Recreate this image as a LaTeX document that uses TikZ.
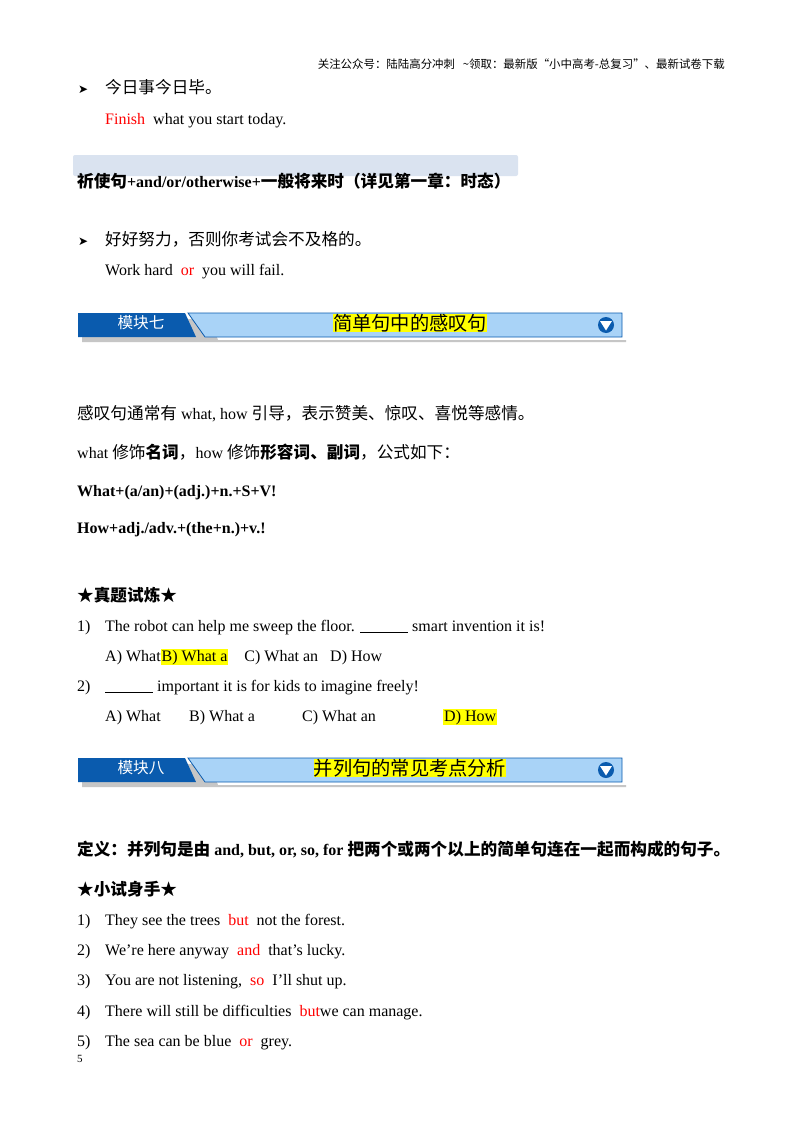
\documentclass[tikz,border=0pt]{standalone}
\usepackage{fontspec}
\setmainfont{Liberation Serif}
\newfontfamily\cjk[Scale=1.04]{Noto Sans CJK SC}
\newfontfamily\djv{DejaVu Sans}
\definecolor{darkb}{HTML}{0A5BAE}
\definecolor{lightb}{HTML}{A9D3F7}
\definecolor{hl}{HTML}{FFFF00}
\definecolor{boxc}{HTML}{DAE3F0}
\newcommand{\zh}[1]{{\cjk #1}}
\newcommand{\rd}[1]{\textcolor{red}{#1}}
\begin{document}
\begin{tikzpicture}[x=1pt,y=-1pt,
  txt/.style={anchor=base west,inner sep=0pt,font=\fontsize{16}{19}\selectfont},
  bld/.style={txt,font=\fontsize{16}{19}\selectfont\bfseries},
  num/.style={txt}]
\useasboundingbox (0,0) rectangle (800,1132);
\fill[white] (0,0) rectangle (800,1132);
\node[anchor=base east,inner sep=0pt,font=\fontsize{11}{13}\selectfont\cjk] (hd) at (725,69) {关注公众号：陆陆高分冲刺 \ \ \~{}领取：最新版“小中高考-总复习”、最新试卷下载};
\node[txt] (b1) at (78,93) {\djv\fontsize{12}{14}\selectfont ➤};
\node[txt] (l1) at (105,93) {\zh{今日事今日毕。}};
\node[txt] (l2) at (105,124) {\rd{Finish}\ \ what you start today.};
\fill[boxc,rounded corners=2pt] (73,155) rectangle (518,176);
\node[bld] (l3) at (77,187) {\zh{\bfseries 祈使句}+and/or/otherwise+\zh{\bfseries 一般将来时（详见第一章：时态）}};
\node[txt] (b2) at (78,245) {\djv\fontsize{12}{14}\selectfont ➤};
\node[txt] (l4) at (105,245) {\zh{好好努力，否则你考试会不及格的。}};
\node[txt] (l5) at (105,275) {Work hard\ \ \rd{or}\ \ you will fail.};
\foreach \y/\tab/\ttl [count=\i] in {313/模块七/简单句中的感叹句,758/模块八/并列句的常见考点分析}{
  \fill[gray!45] (82,\y+6) -- (210,\y+6) -- (218,\y+27) -- (626,\y+27) -- (626,\y+29) -- (82,\y+29) -- cycle;
  \fill[lightb,draw=darkb,line width=0.8pt] (188,\y) -- (622,\y) -- (622,\y+24) -- (205,\y+24) -- cycle;
  \fill[darkb] (78,\y) -- (185,\y) -- (196,\y+24) -- (78,\y+24) -- cycle;
  \node[inner sep=0pt,font=\fontsize{15}{17}\selectfont\cjk,text=white] (t\i) at (141,\y+10) {\tab};
  \node[inner sep=0pt,fill=hl,font=\fontsize{18.5}{21}\selectfont\cjk] (h\i) at (410,\y+10) {\ttl};
  \node[circle,fill=darkb,minimum size=16pt,inner sep=0pt] (c\i) at (606,\y+12) {};
  \fill[white] (600,\y+8) -- (612,\y+8) -- (606,\y+17.5) -- cycle;
}
\node[txt] (p1) at (77,419) {\zh{感叹句通常有} what, how \zh{引导，表示赞美、惊叹、喜悦等感情。}};
\node[txt] (p2) at (77,458) {what \zh{修饰\bfseries 名词}\zh{，}how \zh{修饰}\zh{\bfseries 形容词、副词}\zh{，公式如下：}};
\node[bld] (p3) at (77,496) {What+(a/an)+(adj.)+n.+S+V!};
\node[bld] (p4) at (77,533) {How+adj./adv.+(the+n.)+v.!};
\node[bld] (p5) at (77,601) {\zh{\bfseries ★真题试炼★}};
\node[num] (n1) at (77,631) {1)};
\node[txt] (q1) at (105,631) {The robot can help me sweep the floor. \underline{\hspace{48pt}} smart invention it is!};
\node[txt] (o1) at (105,661) {A) What\setlength{\fboxsep}{1pt}\colorbox{hl}{B) What a}\ \ \ \ C) What an\ \ \ D) How};
\node[num] (n2) at (77,691) {2)};
\node[txt] (q2) at (105,691) {\underline{\hspace{48pt}} important it is for kids to imagine freely!};
\node[txt] (o2a) at (105,721) {A) What};
\node[txt] (o2b) at (189,721) {B) What a};
\node[txt] (o2c) at (302,721) {C) What an};
\node[txt,fill=hl,inner sep=1pt] (o2d) at (443,721) {D) How};
\node[bld] (d1) at (77,855) {\zh{\bfseries 定义：并列句是由} and, but, or, so, for \zh{\bfseries 把两个或两个以上的简单句连在一起而构成的句子。}};
\node[bld] (d2) at (77,895) {\zh{\bfseries ★小试身手★}};
\foreach \yy/\s [count=\k] in {925/{They see the trees\ \ \rd{but}\ \ not the forest.},
  955/{We’re here anyway\ \ \rd{and}\ \ that’s lucky.},
  985/{You are not listening,\ \ \rd{so}\ \ I’ll shut up.},
  1016/{There will still be difficulties\ \ \rd{but}we can manage.},
  1046/{The sea can be blue\ \ \rd{or}\ \ grey.}}{
  \node[num] (m\k) at (77,\yy) {\k)};
  \node[txt] (s\k) at (105,\yy) {\s};
}
\node[anchor=base west,inner sep=0pt,font=\fontsize{11}{13}\selectfont] (pg) at (77,1062) {5};
\end{tikzpicture}
\end{document}
